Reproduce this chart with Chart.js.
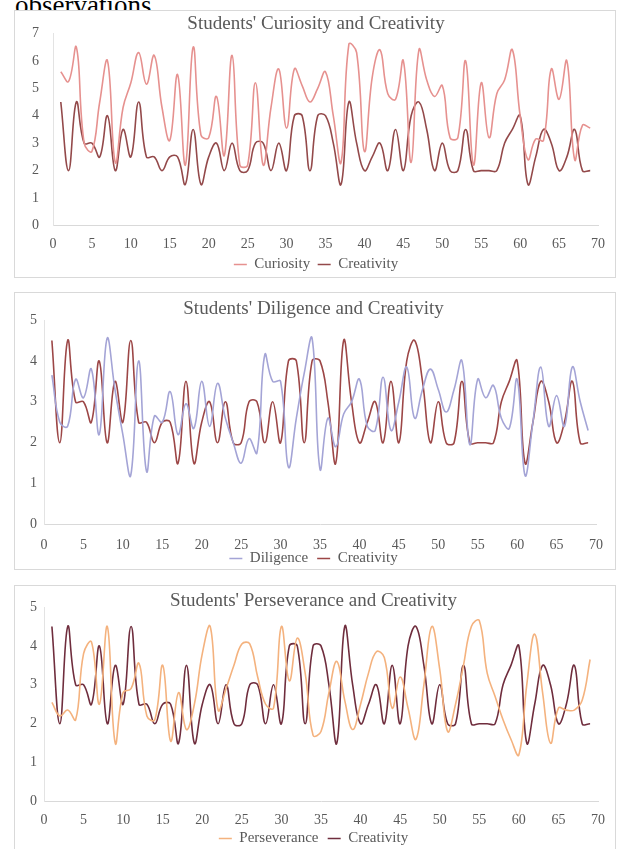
<!DOCTYPE html>
<html>
<head>
<meta charset="utf-8">
<script src="https://cdn.jsdelivr.net/npm/chart.js@4.4.1/dist/chart.umd.min.js"></script>
<style>
  body { margin: 0; background: #fff; width: 622px; height: 849px; overflow: hidden; position: relative; font-family: "Liberation Serif", serif; }
  .lead { position: absolute; left: 15px; top: -8px; font-size: 27px; line-height: 27px; color: #000; }
  .box { position: absolute; left: 14px; width: 600px; border: 1px solid #d9d9d9; background: #fff; }
  .box canvas { position: absolute; left: 0; top: 0; }
</style>
</head>
<body>
<div class="lead">observations.</div>
<div class="box" style="top:10px;height:266px"><canvas id="c1" width="600" height="271"></canvas></div>
<div class="box" style="top:292px;height:276px"><canvas id="c2" width="600" height="283"></canvas></div>
<div class="box" style="top:585px;height:272px"><canvas id="c3" width="600" height="270"></canvas></div>
<script>
// observation number (x axis)
const obs = [1,2,3,4,5,6,7,8,9,10,11,12,13,14,15,16,17,18,19,20,21,22,23,24,25,26,27,28,29,30,
  31,32,33,34,35,36,37,38,39,40,41,42,43,44,45,46,47,48,49,50,51,52,53,54,55,56,57,58,59,60,
  61,62,63,64,65,66,67,68,69];

const creativity = [4.5,2.0,4.5,3.0,3.0,2.5,4.0,2.0,3.5,2.5,
  4.5,2.5,2.5,2.0,2.5,2.5,1.5,3.5,1.5,2.5,
  3.0,2.0,3.0,2.0,2.0,3.0,3.0,2.0,3.0,2.0,
  4.0,4.0,2.0,4.0,4.0,3.0,1.5,4.5,3.0,2.0,
  2.5,3.0,2.0,3.5,2.0,4.0,4.5,3.5,2.0,3.0,
  2.0,2.0,3.5,2.0,2.0,2.0,2.0,3.0,3.5,4.0,
  1.5,2.5,3.5,3.0,2.0,2.5,3.5,2.0,2.0];

const curiosity = [5.6,5.25,6.5,3.0,2.7,4.5,6.0,2.3,4.3,5.2,
  6.3,5.15,6.2,4.3,3.1,5.5,2.2,6.5,3.3,3.2,
  4.7,2.55,6.2,2.2,2.2,5.2,2.2,4.3,5.7,3.55,
  5.7,5.1,4.5,5.0,5.6,4.0,2.3,6.6,6.3,2.7,
  5.4,6.4,4.8,4.6,6.0,2.3,6.4,5.3,4.7,5.1,
  3.2,3.2,6.0,2.2,5.2,3.2,4.8,5.3,6.4,4.0,
  2.4,3.15,3.1,5.7,4.6,6.0,2.4,3.65,3.55];

const diligence = [3.65,2.5,2.4,3.55,3.1,3.8,2.2,4.55,3.3,2.2,
  1.2,4.0,1.3,2.65,2.5,3.25,2.2,2.95,2.35,3.5,
  2.4,3.45,2.6,2.0,1.5,2.1,1.75,4.15,3.5,3.5,
  1.4,2.6,3.7,4.55,1.35,2.6,1.9,2.7,3.0,3.55,
  2.4,2.3,3.6,2.3,3.0,3.85,2.6,3.3,3.8,3.3,
  2.75,3.3,4.0,1.95,3.55,3.1,3.4,2.6,2.35,3.55,
  1.2,2.5,3.85,2.4,3.15,2.4,3.85,3.0,2.3];

const perseverance = [2.55,2.2,2.35,2.1,3.8,4.1,2.5,4.5,1.5,2.8,
  2.9,3.55,2.2,2.1,3.5,1.55,2.8,1.85,2.5,3.8,
  4.5,2.35,2.9,3.5,4.05,4.05,3.2,2.5,2.4,4.5,
  3.1,4.2,3.3,1.7,1.8,2.8,3.6,2.6,1.85,2.5,
  3.3,3.85,3.7,2.4,3.2,2.4,1.6,3.0,4.5,3.4,
  1.8,2.5,3.5,4.5,4.65,3.3,2.7,2.1,1.6,1.2,
  3.0,4.3,2.8,1.5,2.4,2.35,2.35,2.6,3.65];

const xTicks = [0, 70, 5];   // min, max, step
const textGrey = '#595959';
const fontFace = '"Liberation Serif", "Times New Roman", serif';

function points(values) {
  return obs.map((o, i) => ({ x: o, y: values[i] }));
}

function series(label, values, color) {
  return {
    label: label,
    data: points(values),
    borderColor: color,
    backgroundColor: color,
    borderWidth: 1.6,
    pointRadius: 0,
    tension: 0.42,
    fill: false
  };
}

function makeChart(id, title, datasets, yMax, lay) {
  const ctx = document.getElementById(id).getContext('2d');
  const baseLabels = Chart.defaults.plugins.legend.labels.generateLabels;
  return new Chart(ctx, {
    type: 'line',
    data: { datasets: datasets },
    options: {
      responsive: false,
      animation: false,
      layout: { padding: { left: lay.left, right: lay.right, top: 0, bottom: 0 } },
      plugins: {
        title: {
          display: true,
          text: title,
          color: textGrey,
          font: { family: fontFace, size: 19, weight: 'normal', lineHeight: 1 },
          padding: { top: lay.titleTop, bottom: lay.titleBottom }
        },
        legend: {
          position: 'bottom',
          labels: {
            color: textGrey,
            font: { family: fontFace, size: 15, lineHeight: 1 },
            usePointStyle: true,
            pointStyle: 'line',
            pointStyleWidth: 13,
            padding: lay.legendPad,
            // widen the gap between items without touching the vertical padding
            generateLabels: chart => baseLabels(chart).map((item, i, all) => {
              if (i < all.length - 1) item.text += lay.gap;
              return item;
            })
          }
        },
        tooltip: { enabled: false }
      },
      scales: {
        x: {
          type: 'linear',
          min: xTicks[0],
          max: xTicks[1],
          grid: { display: false, drawTicks: false },
          border: { display: true, color: '#d9d9d9', width: 1 },
          ticks: {
            stepSize: xTicks[2],
            autoSkip: false,
            maxRotation: 0,
            padding: lay.xPad,
            color: textGrey,
            font: { family: fontFace, size: 14 }
          },
          afterFit: s => { s.height = lay.xHeight; }
        },
        y: {
          min: 0,
          max: yMax,
          grid: { display: false, drawTicks: false },
          border: { display: true, color: '#e3e3e3', width: 1 },
          ticks: {
            stepSize: 1,
            padding: lay.yPad,
            color: textGrey,
            font: { family: fontFace, size: 14 }
          },
          afterFit: s => { s.width = lay.yWidth; }
        }
      }
    }
  });
}

makeChart('c1', "Students' Curiosity and Creativity", [
  series('Curiosity', curiosity, '#e6918f'),
  series('Creativity', creativity, '#93494a')
], 7, { left: 13, right: 11, titleTop: 3, titleBottom: 0, xPad: 10, xHeight: 24, yPad: 14, yWidth: 25,
        legendPad: 7.5, gap: '' });

makeChart('c2', "Students' Diligence and Creativity", [
  series('Diligence', diligence, '#a4a4d6'),
  series('Creativity', creativity, '#9c4646')
], 5, { left: 7, right: 10, titleTop: 7, titleBottom: 1, xPad: 12, xHeight: 25, yPad: 7, yWidth: 22,
        legendPad: 1.5, gap: '  ' });

makeChart('c3', "Students' Perseverance and Creativity", [
  series('Perseverance', perseverance, '#f4b27e'),
  series('Creativity', creativity, '#6f2d3d')
], 5, { left: 7, right: 10, titleTop: 6, titleBottom: -4, xPad: 10, xHeight: 24, yPad: 7, yWidth: 22,
        legendPad: 5.5, gap: ' ' });
</script>
</body>
</html>
